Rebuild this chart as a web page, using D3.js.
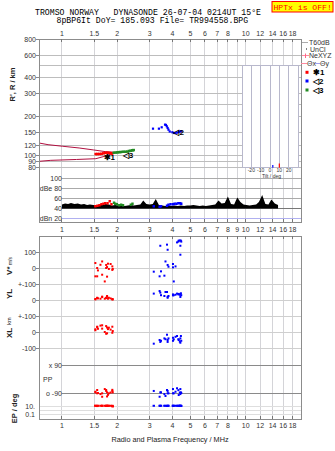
<!DOCTYPE html>
<html lang="en">
<head>
<meta charset="utf-8">
<title>Dynasonde ionogram</title>
<script src="https://d3js.org/d3.v7.min.js"></script>
<style type="text/css">
  body { margin: 0; background: #fff; }
  text { font-family: "Liberation Sans", Arial, sans-serif; }
  .mono { font-family: "Liberation Mono", "DejaVu Sans Mono", monospace; }
</style>
</head>
<body>
<script type="text/javascript">
// frequency axis
var freqLabelsTop = [1, 1.5, 2, 3, 4, 5, 6, 7, 8, 10, 12, 14, 16, 18];
var freqLabelsMid = [1, 1.5, 2, 3, 4, 5, 6, 7, 8, 9, 10, 12, 14, 16, 18];
var freqLabelsBot = [1, 1.5, 2, 3, 4, 5, 6, 7, 8, 10, 12, 14, 16, 18];
var freqGrid = [1, 1.5, 2, 3, 4, 5, 6, 7, 8, 9, 10, 12, 14, 16, 18];

// range axis (km)
var rangeLabels = [80, 90, 100, 120, 150, 200, 300, 400, 600, 800];
var rangeGrid = [80, 90, 100, 120, 150, 200, 250, 300, 400, 500, 600];

// amplitude axis
var dbValues = [100, 80, 60, 40, 20];
var dbLabels = ['100', 'dBe 80', '60', '40', 'dBn 20'];

// model curves
var upperF = [0.75, 0.84, 1.01, 1.24, 1.49, 1.73, 1.96];
var upperR = [124.6, 120.9, 117.5, 114, 110, 106.7, 105.3];
var lowerF = [0.75, 0.87, 1.2, 1.53, 1.73, 1.96];
var lowerR = [89.8, 91.4, 92.8, 94.1, 98.8, 105.3];

// echo traces in the range panel
var redTopF = [1.53, 1.56, 1.60, 1.64, 1.68, 1.72, 1.76, 1.80, 1.84, 1.87];
var redTopR = [102.3, 102.3, 102.4, 102.6, 103.5, 104.5, 104.8, 104.4, 104, 103];
var greenTopF = [1.92, 1.97, 2.01, 2.05, 2.09, 2.15, 2.21, 2.27, 2.32, 2.37, 2.42, 2.45];
var greenTopR = [104.8, 105, 105.5, 105.8, 106, 106.6, 106.6, 106.8, 108, 108.6, 109.3, 109.8];
var blueTopF = [3.13, 3.37, 3.49, 3.64, 3.68, 3.72, 3.76, 3.80, 3.86, 3.99, 4.07, 4.15, 4.25, 4.33, 4.40, 4.46];
var blueTopR = [161, 161, 165, 173, 172, 168, 163, 158, 153, 151, 149, 149, 150, 152, 153, 154];

// layer marks
var markF = [1.81, 4.32, 2.29];
var markR = [96.5, 149, 99.1];
var markText = ['\u27311', '\u25C12', '\u25C13'];

// amplitude trace
var ampF = [1.00, 1.04, 1.08, 1.12, 1.17, 1.22, 1.27, 1.32, 1.37, 1.42,
            1.48, 1.54, 1.60, 1.67, 1.73, 1.80, 1.87, 1.95, 2.03, 2.11,
            2.19, 2.28, 2.37, 2.46, 2.56, 2.67, 2.77, 2.88, 3.00, 3.12,
            3.24, 3.37, 3.51, 3.65, 3.79, 3.95, 4.10, 4.27, 4.44, 4.62,
            4.80, 4.99, 5.19, 5.40, 5.62, 5.84, 6.07, 6.32, 6.57, 6.83,
            7.11, 7.39, 7.69, 8.00, 8.32, 8.65, 9.00, 9.36, 9.73, 10.1,
            10.5, 10.9, 11.4, 11.8, 12.3, 12.8, 13.3, 13.8, 14.4, 15.0];
var ampDb = [47, 49, 48, 50, 48, 49, 47, 48, 46, 47,
             46, 45, 47, 46, 48, 47, 45, 46, 45, 46,
             44, 45, 46, 45, 46, 47, 55, 48, 47, 48,
             58, 46, 45, 44, 45, 44, 45, 44, 45, 44,
             45, 45, 46, 45, 44, 45, 44, 45, 46, 47,
             55, 49, 50, 63, 48, 47, 61, 52, 47, 46,
             45, 46, 47, 52, 66, 48, 47, 57, 49, 46];
var redDbF = [1.52, 1.56, 1.60, 1.64, 1.68, 1.72, 1.77, 1.82, 1.86];
var redDb = [46, 47, 48, 50, 51, 52, 52, 56, 50];
var greenDbF = [1.92, 1.95, 1.99, 2.05, 2.10, 2.15, 2.37, 2.42];
var greenDb = [53, 51, 50, 48, 49, 48, 49, 51];
var blueDbF = [3.16, 3.40, 3.46, 3.73, 3.80, 3.90, 4.02, 4.10, 4.20, 4.30, 4.40, 4.46];
var blueDb = [46, 45, 46, 47, 49, 50, 50, 51, 51, 52, 52, 51];

// echo parameters, red layer
var redF  = [1.52, 1.52, 1.555, 1.555, 1.57, 1.62, 1.655, 1.655, 1.71, 1.74, 1.74, 1.76, 1.76, 1.78, 1.80, 1.84, 1.88, 1.89, 1.88];
var redV  = [31, -52, 0, -52, -15, 20, 41, -42, -84, 19, 0, 6, -54, 27, -6, 25, 10, -6, -12];
var redYL = [4, 6, 14, 12, 10, 8, 21, 18, 8, 14, 12, 25, 20, 8, 14, 10, 4, 4, 6];
var redXL = [17, 11, 33, 30, 20, 40, 42, 21, 0, -11, 37, 28, -8, 18, 27, 15, 33, 6, -5];
var redPP = [-80, -84, -69, -90, -88, -95, -112, -90, -63, -69, -75, -110, -84, -100, -90, -85, -68, -84, -75];
var redEP = [18, 18, 18, 15, 18, 18, 18, 18, 18, 16, 18, 18, 18, 18, 18, 18, 18, 12, 14];

// echo parameters, blue layer
var blueF  = [3.16, 3.40, 3.43, 3.46, 3.61, 3.66, 3.73, 3.76, 3.76, 3.80, 4.02, 4.02, 4.06, 4.15, 4.23, 4.30, 4.32, 4.38, 4.41, 4.41, 4.44, 4.46];
var blueV  = [-23, -52, 139, -21, -48, 41, 146, 114, 19, 8, 25, 4, -84, 10, 160, 165, 171, 172, 139, 83, 171, 165];
var blueYL = [40, 56, 46, 30, 25, 50, 50, 14, 20, 25, 29, 35, 30, 33, 40, 35, 38, 33, 19, 35, 42, 30];
var blueXL = [-73, -50, -62, -55, -40, -45, -17, -62, -50, -40, -36, -55, -46, -30, -25, -45, -50, -60, -67, -40, -25, -55];
var bluePP = [-75, -112, -84, -84, -95, -107, -69, -90, -75, -90, -63, -90, -90, -80, -58, -70, -101, -85, -63, -95, -84, -88];
var blueEP = [18, 18, 18, 18, 18, 18, 16, 18, 18, 18, 18, 18, 18, 18, 18, 18, 18, 18, 18, 18, 18, 16];

// tilt inset
var tiltTicks = [-20, -10, 0, 10, 20];
var tiltRed = 10;
var tiltBlue = 3;

var w = 335, h = 451;
var left = 39, right = 301;
var topY0 = 39, topY1 = 222, midY0 = 236, midY1 = 419;

var svg = d3.select('body').append('svg')
            .attr('width', w)
            .attr('height', h);

var x = d3.scaleLog().domain([0.75, 20]).range([left, right]);
var yR = d3.scaleLog().domain([100, 800]).range([155.3, 39]);
var yDb = d3.scaleLinear().domain([20, 100]).range([218, 178]);
var yV = d3.scaleLinear().domain([-100, 100]).range([284, 252]);
var yYL = d3.scaleLinear().domain([-100, 100]).range([316, 284]);
var yXL = d3.scaleLinear().domain([-100, 100]).range([348, 316]);
var yPP = d3.scaleLinear().domain([-90, 90]).range([393.3, 365]);
var yEP = d3.scaleLog().domain([0.1, 10]).range([414, 406.7]);
var xT = d3.scaleLinear().domain([-30, 30]).range([242, 298]);

function hline(y, x0, x1, color) {
  svg.append('line')
     .attr('x1', x0).attr('x2', x1)
     .attr('y1', y).attr('y2', y)
     .attr('stroke', color).attr('stroke-width', 1)
     .attr('shape-rendering', 'crispEdges');
}

function label(txt, xx, yy, anchor, size, color) {
  return svg.append('text')
     .attr('x', xx).attr('y', yy)
     .attr('text-anchor', anchor)
     .attr('dominant-baseline', 'central')
     .attr('font-size', size)
     .attr('fill', color || '#333')
     .text(txt);
}

// title
svg.append('text').attr('class', 'mono')
   .attr('x', 35).attr('y', 15).attr('font-size', 8.2).attr('fill', '#000')
   .attr('xml:space', 'preserve')
   .text('TROMSO NORWAY   DYNASONDE 26-07-04 0214UT 15\u00B0E');
svg.append('text').attr('class', 'mono')
   .attr('x', 56.5).attr('y', 23.2).attr('font-size', 8.2).attr('fill', '#000')
   .attr('xml:space', 'preserve')
   .text('8pBP6It DoY= 185.093 File= TR994558.BPG');
svg.append('rect')
   .attr('x', 272).attr('y', 1.5).attr('width', 61).attr('height', 10.5)
   .attr('fill', '#ffff00').attr('stroke', '#ff0000');
svg.append('text').attr('class', 'mono')
   .attr('x', 273.5).attr('y', 10).attr('font-size', 8.1).attr('fill', '#ff0000')
   .text('HPTx is OFF!');

// vertical grid
freqGrid.forEach(function(f) {
  [[topY0, topY1], [midY0, midY1]].forEach(function(p) {
    svg.append('line')
       .attr('x1', x(f)).attr('x2', x(f))
       .attr('y1', p[0]).attr('y2', p[1])
       .attr('stroke', '#d4d4d8').attr('shape-rendering', 'crispEdges');
  });
});

// range grid + labels
rangeGrid.forEach(function(r) { hline(yR(r), left, right, '#bdbdbd'); });
rangeLabels.forEach(function(r) {
  label(r, 36, yR(r), 'end', 7);
  hline(yR(r), 36, left, '#888');
});

// dB grid
dbValues.forEach(function(v, i) {
  var col = v == 20 ? '#b0b0f0' : (v == 40 ? '#777' : '#aaa');
  hline(yDb(v), x(1), right, col);
  label(dbLabels[i], 62, yDb(v), 'end', 7);
});

// middle grid
[[yV, 100, '100'], [yV, 0, '0'], [yV, -100, '+-100'], [yYL, 0, '0'],
 [yYL, -100, '+-100'], [yXL, 0, '0'], [yXL, -100, '-100']].forEach(function(d) {
  hline(d[0](d[1]), left, right, '#cfcfcf');
  hline(d[0](d[1]), 36, left, '#888');
  label(d[2], 36, d[0](d[1]), 'end', 7);
});
hline(yPP(90), x(1), right, '#8a8a8a');
hline(yPP(-90), x(1), right, '#8a8a8a');
label('x 90', 62, yPP(90), 'end', 7);
label('o -90', 62, yPP(-90), 'end', 7);
label('PP', 43, 379.5, 'start', 7);
[10, 1, 0.1].forEach(function(v) { hline(yEP(v), left, right, '#dedede'); });
label('10.', 35, yEP(10), 'end', 7);
label('0.1', 35, yEP(0.1), 'end', 7);

// model curves
var line = d3.line()
             .x(function(d) { return x(d[0]); })
             .y(function(d) { return yR(d[1]); });
svg.append('path').datum(d3.zip(upperF, upperR)).attr('d', line)
   .attr('fill', 'none').attr('stroke', '#b01040').attr('stroke-width', 1);
svg.append('path').datum(d3.zip(lowerF, lowerR)).attr('d', line)
   .attr('fill', 'none').attr('stroke', '#b01040').attr('stroke-width', 1);

// range echoes
function squares(fs, vs, ys, col, sw, sh) {
  svg.append('g').selectAll('rect')
     .data(d3.zip(fs, vs))
     .enter()
     .append('rect')
     .attr('x', function(d) { return x(d[0]) - sw / 2; })
     .attr('y', function(d) { return ys(d[1]) - sh / 2; })
     .attr('width', sw).attr('height', sh)
     .attr('fill', col);
}
squares(redTopF, redTopR, yR, '#ff0000', 3, 2.5);
squares(greenTopF, greenTopR, yR, '#228b22', 3, 2.5);
squares(blueTopF, blueTopR, yR, '#0000ff', 2.2, 2.2);

markF.forEach(function(f, i) {
  label(markText[i], x(f), yR(markR[i]), 'middle', 8, '#000')
    .attr('font-family', 'DejaVu Sans').attr('font-weight', 'bold');
});

// amplitude trace
var area = d3.area()
             .x(function(d) { return x(d[0]); })
             .y0(yDb(39))
             .y1(function(d) { return yDb(d[1]); });
svg.append('path').datum(d3.zip(ampF, ampDb)).attr('d', area).attr('fill', '#000');

function dbBars(fs, vs, col) {
  svg.append('g').selectAll('rect')
     .data(d3.zip(fs, vs))
     .enter()
     .append('rect')
     .attr('x', function(d) { return x(d[0]) - 1.2; })
     .attr('y', function(d) { return yDb(d[1]); })
     .attr('width', 2.4)
     .attr('height', function(d) { return yDb(d[1] - 5) - yDb(d[1]); })
     .attr('fill', col);
}
dbBars(redDbF, redDb, '#ff0000');
dbBars(greenDbF, greenDb, '#228b22');
dbBars(blueDbF, blueDb, '#0000ff');

// echo parameters
[[redF, redV, redYL, redXL, redPP, redEP, '#ff0000'],
 [blueF, blueV, blueYL, blueXL, bluePP, blueEP, '#0000ff']].forEach(function(s) {
  squares(s[0], s[1], yV, s[6], 2, 2);
  squares(s[0], s[2], yYL, s[6], 2, 2);
  squares(s[0], s[3], yXL, s[6], 2, 2);
  squares(s[0], s[4], yPP, s[6], 2, 2);
  squares(s[0], s[5], yEP, s[6], 2.4, 2);
});

// tilt inset
svg.append('rect')
   .attr('x', xT(-30)).attr('y', 65).attr('width', xT(30) - xT(-30)).attr('height', 102.7)
   .attr('fill', '#fff').attr('stroke', '#b8b8cc').attr('shape-rendering', 'crispEdges');
tiltTicks.forEach(function(t) {
  svg.append('line')
     .attr('x1', xT(t)).attr('x2', xT(t)).attr('y1', 65).attr('y2', 167.7)
     .attr('stroke', '#b8b8cc').attr('shape-rendering', 'crispEdges');
  label(t, xT(t), 170.3, 'middle', 5, '#333');
});
label('Tilt / deg', 271.5, 175.5, 'middle', 5, '#333');
svg.append('rect').attr('x', xT(tiltBlue) - 0.6).attr('y', 165).attr('width', 1.2).attr('height', 2.7).attr('fill', '#0000ff');
svg.append('rect').attr('x', xT(tiltRed) - 0.6).attr('y', 163.5).attr('width', 1.2).attr('height', 4.2).attr('fill', '#ff0000');

// frames
[[topY0, topY1], [midY0, midY1]].forEach(function(p) {
  svg.append('rect')
     .attr('x', left).attr('y', p[0]).attr('width', right - left).attr('height', p[1] - p[0])
     .attr('fill', 'none').attr('stroke', '#8c8c8c').attr('shape-rendering', 'crispEdges');
});

// frequency ticks + labels
function freqTicks(list, yy, tickY, dir) {
  list.forEach(function(f) {
    label(f, x(f), yy, 'middle', 7);
  });
  freqLabelsMid.forEach(function(f) {
    svg.append('line')
       .attr('x1', x(f)).attr('x2', x(f)).attr('y1', tickY).attr('y2', tickY + dir * 3)
       .attr('stroke', '#777').attr('shape-rendering', 'crispEdges');
  });
}
freqTicks(freqLabelsTop, 33, topY0, 1);
freqTicks(freqLabelsMid, 229.3, topY1, -1);
freqTicks([], 0, midY0, 1);
freqTicks(freqLabelsBot, 425.7, midY1, -1);

label('Radio and Plasma Frequency / MHz', 170, 439, 'middle', 7.3, '#222');

// axis titles
function vlabel(txt, xx, yy, size) {
  return svg.append('text')
     .attr('transform', 'translate(' + xx + ',' + yy + ') rotate(-90)')
     .attr('text-anchor', 'middle')
     .attr('font-size', size)
     .attr('font-weight', 'bold')
     .attr('fill', '#222')
     .text(txt);
}
vlabel("R', R / km", 15, 84.5, 7.5);
var vt = vlabel('V*', 12, 266, 8);
vt.append('tspan').attr('font-size', 5).attr('font-weight', 'normal').text(' m/s');
vlabel('YL', 12, 294, 8);
vlabel('km', 11, 321, 5.5).attr('font-weight', 'normal');
vlabel('XL', 12, 333, 8);
vlabel('EP / deg', 16.5, 408.5, 7.5);

// legend
hline(42.7, 302, 308, '#aaa');
label('T60dB', 309, 42.7, 'start', 7);
svg.append('rect').attr('x', 306).attr('y', 48.5).attr('width', 1).attr('height', 1).attr('fill', '#000');
label('UnCl', 310, 49.2, 'start', 7);
hline(55.7, 302, 309, '#ff8aa0');
svg.append('line').attr('x1', 305.5).attr('x2', 305.5).attr('y1', 53.5).attr('y2', 58).attr('stroke', '#ff6688');
label('NeXYZ', 309, 55.7, 'start', 7);
hline(63.3, 301, 307, '#ff8aa0');
label('\u0398x', 307, 63.3, 'start', 7);
hline(63.3, 314.5, 320, '#a0a0f0');
label('\u0398y', 320, 63.3, 'start', 7);
[['#ff0000', 72.3, markText[0]], ['#0000ff', 81, markText[1]], ['#228b22', 90, markText[2]]].forEach(function(d) {
  svg.append('rect').attr('x', 305.5).attr('y', d[1] - 1.5).attr('width', 3).attr('height', 3).attr('fill', d[0]);
  label(d[2], 313, d[1], 'start', 8, '#000').attr('font-family', 'DejaVu Sans').attr('font-weight', 'bold');
});
</script>
</body>
</html>
